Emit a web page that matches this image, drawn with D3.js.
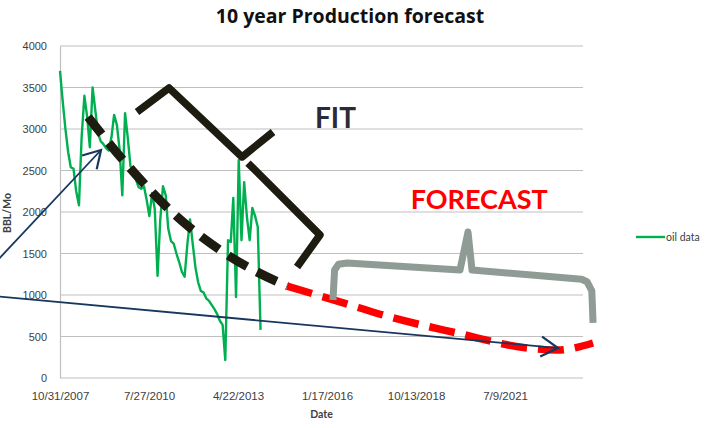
<!DOCTYPE html>
<html>
<head>
<meta charset="utf-8">
<script src="https://cdn.jsdelivr.net/npm/d3@7"></script>
<style>
  body { margin: 0; background: #fff; }
  svg { display: block; font-family: Lato, "Open Sans", sans-serif; }
</style>
</head>
<body>
<script>
// chart data
var startLabel = "10/31/2007";
var xTickLabels = ["10/31/2007", "7/27/2010", "4/22/2013", "1/17/2016", "10/13/2018", "7/9/2021"];
var yTicks = [0, 500, 1000, 1500, 2000, 2500, 3000, 3500, 4000];
var axisDays = 5876;   // span of the date axis
// monthly oil production (end of month, starting 10/31/2007)
var oilData = [3700, 3340, 3000, 2720, 2540, 2520, 2250, 2080, 2900, 3400,
    3150, 2780, 3500, 3230, 2950, 2850, 2820, 2770, 2740, 2900,
    3170, 3050, 2750, 2200, 3190, 2900, 2550, 2500, 2400, 2300,
    2280, 2310, 2150, 1950, 2230, 2030, 1230, 1900, 2310, 2200,
    1800, 1650, 1620, 1500, 1400, 1280, 1220, 1600, 1910, 1620,
    1330, 1150, 1050, 1030, 960, 930, 880, 830, 770, 690,
    640, 215, 1660, 1640, 2170, 975, 2625, 1660, 2360, 1940,
    1660, 2050, 1950, 1820, 580];
// hand drawn annotations, as [days after start, BBL/Mo]
var fitCurve = [[315, 3145], [708, 2627], [1270, 1988], [1831, 1518], [2472, 1145], [2551, 1108]];
var forecastCurve = [[2551, 1108], [3371, 843], [3629, 759], [4461, 542], [5247, 361], [5584, 337], [5989, 422]];
var fitBraceTop = [[865, 3205], [1225, 3494], [2045, 2663], [2393, 2964]];
var fitBraceBottom = [[2112, 2590], [2921, 1723], [2663, 1337]];
var forecastBrace = [[3067, 940], [3085, 1300], [3130, 1370], [3225, 1386], [4494, 1301], [4584, 1759],
    [4629, 1301], [5860, 1190], [5921, 1160], [5975, 1050], [5989, 663]];
var arrowA = [[-730, 1386], [461, 2747]];
var arrowB = [[-730, 985], [5596, 361]];
var fitLabel = [2865, 3012];
var forecastLabel = [3940, 2036];

var w = 708, h = 428;
var margin = {left: 60, right: 125, top: 46, bottom: 50};
var parseDate = d3.timeParse("%m/%d/%Y");
var start = parseDate(startLabel);

var svg = d3.select("body").append("svg")
    .attr("width", w)
    .attr("height", h);

var x = d3.scaleTime()
    .domain([start, d3.timeDay.offset(start, axisDays)])
    .range([margin.left, w - margin.right]);
var y = d3.scaleLinear()
    .domain([0, 4000])
    .range([h - margin.bottom, margin.top]);

function dayX(d) { return x(d3.timeDay.offset(start, d)); }

// gridlines
svg.append("g")
    .selectAll("line").data(yTicks).enter().append("line")
    .attr("x1", margin.left).attr("x2", w - margin.right)
    .attr("y1", function (d) { return y(d); })
    .attr("y2", function (d) { return y(d); })
    .style("stroke", "#bfbfbf")
    .style("stroke-width", 1.2);

// y axis
var yAxis = svg.append("g")
    .attr("transform", "translate(" + margin.left + ",0)")
    .call(d3.axisLeft(y).tickValues(yTicks).tickFormat(d3.format("d")).tickSize(0).tickPadding(13));
yAxis.select(".domain").style("stroke", "#bfbfbf").style("stroke-width", 1.2);
yAxis.selectAll("text").style("font-size", "11px").style("fill", "#404040");

// x axis
var xAxis = svg.append("g")
    .attr("transform", "translate(0," + y(0) + ")")
    .call(d3.axisBottom(x)
        .tickValues(xTickLabels.map(parseDate))
        .tickFormat(d3.timeFormat("%-m/%-d/%Y"))
        .tickSize(0).tickPadding(14));
xAxis.select(".domain").remove();
xAxis.selectAll("text").style("font-size", "11.5px").style("fill", "#404040");

// axis titles
svg.append("text")
    .attr("x", (margin.left + w - margin.right) / 2)
    .attr("y", 418)
    .attr("text-anchor", "middle")
    .style("font-size", "10.5px").style("font-weight", "bold").style("fill", "#404040")
    .text("Date");
svg.append("text")
    .attr("transform", "translate(11,213) rotate(-90)")
    .attr("text-anchor", "middle")
    .style("font-size", "10.5px").style("font-weight", "bold").style("fill", "#404040")
    .text("BBL/Mo");

// title
svg.append("text")
    .attr("x", 350)
    .attr("y", 23)
    .attr("text-anchor", "middle")
    .style("font-family", "'Open Sans', sans-serif")
    .style("font-size", "19.5px").style("font-weight", "bold").style("fill", "#111")
    .text("10 year Production forecast");

// oil data
var oilDates = oilData.map(function (v, i) {
    return d3.timeDay.offset(d3.timeMonth.offset(d3.timeMonth.ceil(start), i), -1);
});
var oilLine = d3.line()
    .x(function (d, i) { return x(oilDates[i]); })
    .y(function (d) { return y(d); });
svg.append("path")
    .datum(oilData)
    .attr("d", oilLine)
    .style("fill", "none")
    .style("stroke", "#00b050")
    .style("stroke-width", 2.4)
    .style("stroke-linejoin", "round");

// legend
svg.append("line")
    .attr("x1", 636).attr("x2", 665).attr("y1", 237).attr("y2", 237)
    .style("stroke", "#00b050").style("stroke-width", 2.4);
svg.append("text")
    .attr("x", 666).attr("y", 241)
    .style("font-size", "10.5px").style("fill", "#404040")
    .text("oil data");

// annotations
var annLine = d3.line()
    .x(function (d) { return dayX(d[0]); })
    .y(function (d) { return y(d[1]); });
var curveLine = d3.line()
    .x(function (d) { return dayX(d[0]); })
    .y(function (d) { return y(d[1]); })
    .curve(d3.curveMonotoneX);

svg.append("path").attr("d", curveLine(fitCurve))
    .style("fill", "none").style("stroke", "#1e1c10")
    .style("stroke-width", 9).style("stroke-dasharray", "22,11");
svg.append("path").attr("d", curveLine(forecastCurve))
    .style("fill", "none").style("stroke", "#ff0000")
    .style("stroke-width", 7.5).style("stroke-dasharray", "26,11");

[fitBraceTop, fitBraceBottom].forEach(function (pts) {
    svg.append("path").attr("d", annLine(pts))
        .style("fill", "none").style("stroke", "#1e1c10")
        .style("stroke-width", 7.5).style("stroke-linejoin", "round");
});
svg.append("path").attr("d", annLine(forecastBrace))
    .style("fill", "none").style("stroke", "#8f9b95")
    .style("stroke-width", 7).style("stroke-linejoin", "round");

svg.append("defs").append("marker")
    .attr("id", "arrow")
    .attr("markerUnits", "userSpaceOnUse")
    .attr("markerWidth", 40).attr("markerHeight", 40)
    .attr("viewBox", "-20 -20 40 40")
    .attr("refX", 0).attr("refY", 0)
    .attr("orient", "auto")
    .append("path")
    .attr("d", "M-17,-10L0,0L-17,10")
    .style("fill", "none").style("stroke", "#17375e").style("stroke-width", 2.2);
[arrowA, arrowB].forEach(function (pts) {
    svg.append("path").attr("d", annLine(pts))
        .style("fill", "none").style("stroke", "#17375e")
        .style("stroke-width", 1.8)
        .attr("marker-end", "url(#arrow)");
});

svg.append("text")
    .attr("x", dayX(fitLabel[0])).attr("y", y(fitLabel[1]))
    .style("font-size", "28px").style("font-weight", "bold").style("fill", "#2b2b38")
    .text("FIT");
svg.append("text")
    .attr("x", dayX(forecastLabel[0])).attr("y", y(forecastLabel[1]))
    .style("font-size", "27px").style("font-weight", "bold").style("fill", "#ff0000")
    .text("FORECAST");
</script>
</body>
</html>
